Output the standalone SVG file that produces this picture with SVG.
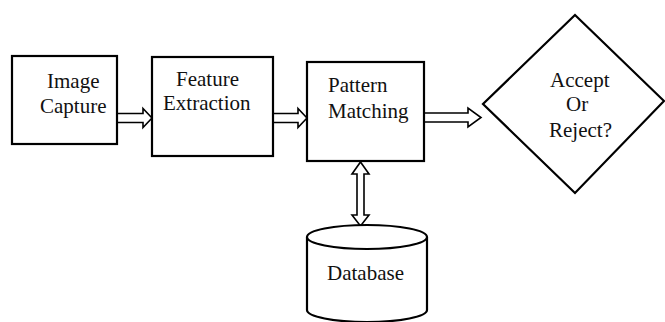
<svg xmlns="http://www.w3.org/2000/svg" width="665" height="322" viewBox="0 0 665 322">
  <style>
    .box { fill: #fff; stroke: #000; stroke-width: 2.2; }
    .arrow { fill: #fff; stroke: #000; stroke-width: 1.6; stroke-linejoin: miter; }
    .label { font-family: "Liberation Serif", "Times New Roman", serif; font-size: 21px; fill: #111; }
  </style>
  <rect width="665" height="322" fill="#fff"/>

  <!-- hollow block arrows -->
  <g id="connectors">
    <polygon class="arrow" points="117,113.5 143,113.5 143,108.5 152,118 143,127.5 143,122.5 117,122.5"/>
    <polygon class="arrow" points="273,113.5 298,113.5 298,108.5 307,118 298,127.5 298,122.5 273,122.5"/>
    <polygon class="arrow" points="424,113 468,113 468,108 481,117.5 468,127 468,122 424,122"/>
    <polygon class="arrow" points="360.5,162 369,174 364,174 364,215 369,215 360.5,226 352,215 357,215 357,174 352,174"/>
  </g>

  <g id="image-capture">
    <rect class="box" x="12" y="56" width="105" height="88"/>
    <text class="label" x="47" y="88">Image</text>
    <text class="label" x="40" y="113">Capture</text>
  </g>

  <g id="feature-extraction">
    <rect class="box" x="152" y="57" width="121" height="99"/>
    <text class="label" x="176" y="86">Feature</text>
    <text class="label" x="163" y="110">Extraction</text>
  </g>

  <g id="pattern-matching">
    <rect class="box" x="307" y="62" width="117" height="99"/>
    <text class="label" x="328" y="92">Pattern</text>
    <text class="label" x="328" y="118">Matching</text>
  </g>

  <g id="decision">
    <polygon class="box" points="575,15 664,101 575,193 483,104"/>
    <text class="label" x="550" y="87">Accept</text>
    <text class="label" x="566" y="111">Or</text>
    <text class="label" x="549" y="137">Reject?</text>
  </g>

  <g id="database">
    <path class="box" d="M307,237 L307,310 A60,12 0 0 0 427,310 L427,237"/>
    <ellipse class="box" cx="367" cy="237" rx="60" ry="12"/>
    <text class="label" x="327" y="280">Database</text>
  </g>
</svg>
